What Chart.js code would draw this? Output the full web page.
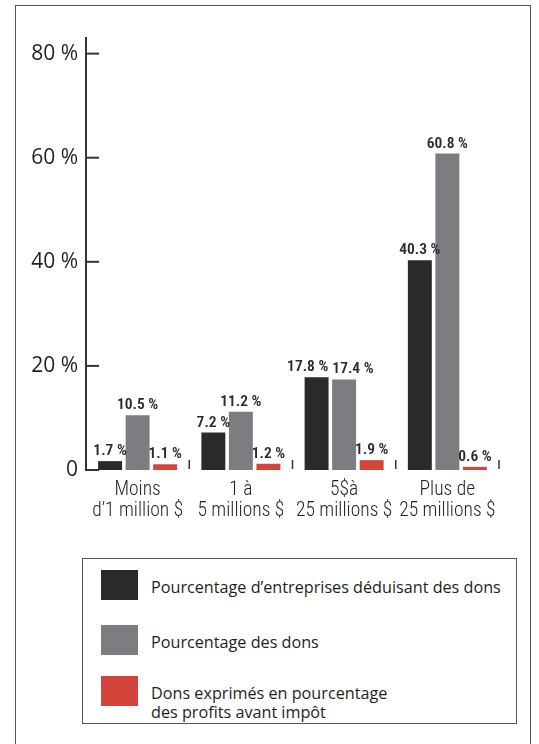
<!DOCTYPE html>
<html>
<head>
<meta charset="utf-8">
<script src="https://cdn.jsdelivr.net/npm/chart.js@4/dist/chart.umd.min.js"></script>
<style>
body { margin: 0; background: #fff; width: 539px; height: 744px; overflow: hidden; position: relative; font-family: "Open Sans", sans-serif; }
#frame { position: absolute; left: 15px; top: 5px; width: 514px; height: 800px; border: 1px solid #555; }
#chart { position: absolute; left: 0; top: 0; }
#legend { position: absolute; left: 82px; top: 558px; width: 435px; height: 166px; border: 1px solid #555; box-sizing: border-box; padding-top: 11px; }
.row { display: flex; align-items: center; margin-left: 18px; }
.row:nth-child(1) { margin-bottom: 25px; }
.row:nth-child(2) { margin-bottom: 21px; }
.sw { width: 37px; height: 30px; flex: none; }
.tx { margin-left: 13px; font-size: 16.2px; color: #231f20; padding-top: 5px; white-space: pre-line; line-height: 18.5px; }
.row.multi { align-items: flex-start; }
.row.multi .tx { padding-top: 8px; }
</style>
</head>
<body>
<div id="frame"></div>
<canvas id="chart" width="539" height="530"></canvas>
<div id="legend"></div>
<script>
// Kategori (ukuran perusahaan)
var categories = [
  ["Moins", "d\u20191 million $"],
  ["1 à", "5 millions $"],
  ["5$à", "25 millions $"],
  ["Plus de", "25 millions $"]
];

// Nilai tiap seri (%)
var entreprises = [1.7, 7.2, 17.8, 40.3];
var dons = [10.5, 11.2, 17.4, 60.8];
var profits = [1.1, 1.2, 1.9, 0.6];

var seriesLabels = [
  "Pourcentage d\u2019entreprises déduisant des dons",
  "Pourcentage des dons",
  "Dons exprimés en pourcentage\ndes profits avant impôt"
];
var seriesColors = ["#2b2a2b", "#7c7d81", "#d3453b"];

var yTicks = [0, 20, 40, 60, 80];

// Garis tick ke dalam + pemisah kategori
var marks = {
  id: "marks",
  afterDraw: function (chart) {
    var ctx = chart.ctx, x = chart.scales.x, y = chart.scales.y, area = chart.chartArea;
    ctx.save();
    ctx.strokeStyle = "#333";
    ctx.lineWidth = 2;
    y.ticks.forEach(function (t, i) {
      var py = y.getPixelForTick(i);
      ctx.beginPath();
      ctx.moveTo(area.left, py);
      ctx.lineTo(area.left + 13, py);
      ctx.stroke();
    });
    var half = (x.getPixelForValue(1) - x.getPixelForValue(0)) / 2;
    ctx.lineWidth = 1.5;
    categories.forEach(function (c, i) {
      var px = x.getPixelForValue(i) + half;
      ctx.beginPath();
      ctx.moveTo(px, area.bottom - 10);
      ctx.lineTo(px, area.bottom - 1);
      ctx.stroke();
    });
    ctx.restore();
  }
};

// Label nilai di atas batang
var valueLabels = {
  id: "valueLabels",
  afterDatasetsDraw: function (chart) {
    var ctx = chart.ctx;
    ctx.save();
    ctx.font = "600 condensed 15.5px Roboto, sans-serif";
    ctx.fillStyle = "#2b2a2b";
    ctx.textAlign = "center";
    ctx.textBaseline = "alphabetic";
    categories.forEach(function (c, i) {
      var items = chart.data.datasets.map(function (ds, d) {
        var bar = chart.getDatasetMeta(d).data[i];
        var text = ds.data[i].toFixed(1) + " %";
        return { text: text, x: bar.x, y: bar.y - 6, w: ctx.measureText(text).width };
      });
      for (var k = 1; k < items.length; k++) {
        var a = items[k - 1], b = items[k];
        var overlap = (a.x + a.w / 2 + 4) - (b.x - b.w / 2);
        if (overlap > 0 && Math.abs(a.y - b.y) < 14) {
          a.x -= overlap / 2;
          b.x += overlap / 2;
        }
      }
      items.forEach(function (it) { ctx.fillText(it.text, it.x, it.y); });
    });
    ctx.restore();
  }
};

var datasets = [entreprises, dons, profits].map(function (values, i) {
  return {
    label: seriesLabels[i],
    data: values,
    backgroundColor: seriesColors[i],
    borderWidth: 0,
    categoryPercentage: 0.8,
    barPercentage: 0.87
  };
});

var chart = new Chart(document.getElementById("chart").getContext("2d"), {
  type: "bar",
  data: { labels: categories, datasets: datasets },
  options: {
    responsive: false,
    animation: false,
    layout: { padding: { top: 38, right: 40, left: 0, bottom: 0 } },
    plugins: { legend: { display: false }, tooltip: { enabled: false } },
    scales: {
      x: {
        grid: { display: false, drawTicks: false },
        border: { display: false },
        ticks: {
          color: "#231f20",
          font: { family: "Roboto, sans-serif", weight: "300 condensed", size: 19.5, lineHeight: 1.08 },
          padding: 10,
          maxRotation: 0,
          autoSkip: false
        },
        afterFit: function (s) { s.height = 60; }
      },
      y: {
        min: 0,
        max: 83,
        grid: { display: false, drawTicks: false },
        border: { display: true, color: "#333", width: 2 },
        ticks: {
          stepSize: 20,
          padding: 8,
          color: "#231f20",
          font: { family: '"Open Sans", sans-serif', size: 21 },
          callback: function (v) { return v === 0 ? "0" : v + " %"; }
        },
        afterBuildTicks: function (s) {
          s.ticks = yTicks.map(function (v) { return { value: v }; });
        },
        afterFit: function (s) { s.width = 86; }
      }
    }
  },
  plugins: [marks, valueLabels]
});

// Legenda HTML
var legend = document.getElementById("legend");
chart.data.datasets.forEach(function (ds) {
  var row = document.createElement("div");
  row.className = "row" + (ds.label.indexOf("\n") >= 0 ? " multi" : "");
  var sw = document.createElement("span");
  sw.className = "sw";
  sw.style.background = ds.backgroundColor;
  var tx = document.createElement("span");
  tx.className = "tx";
  tx.textContent = ds.label;
  row.appendChild(sw);
  row.appendChild(tx);
  legend.appendChild(row);
});
</script>
</body>
</html>
